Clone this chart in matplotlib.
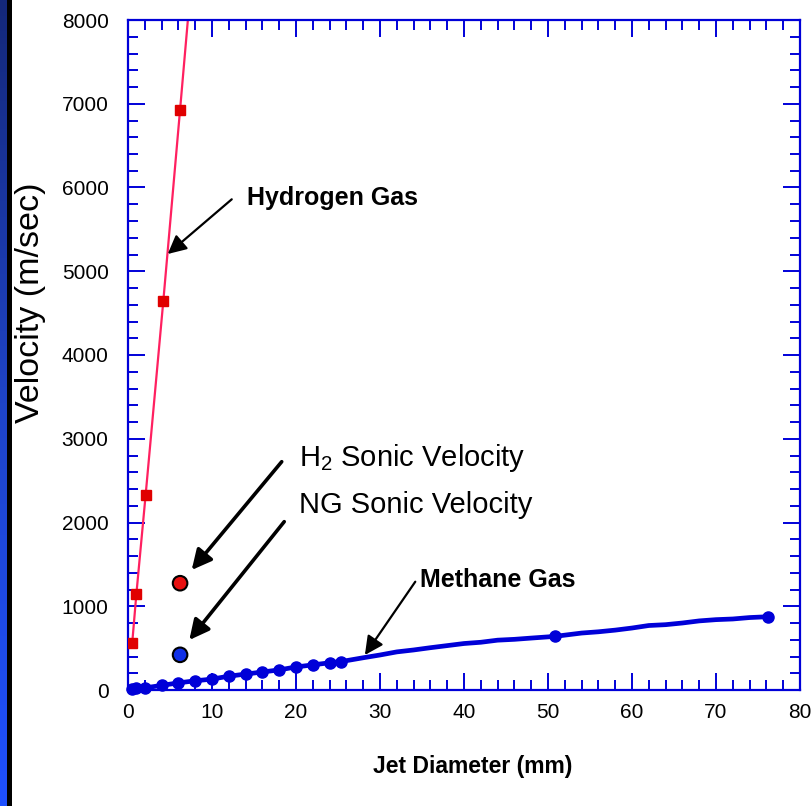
import numpy as np
import matplotlib
matplotlib.use("Agg")
import matplotlib.pyplot as plt
from matplotlib.patches import Rectangle
from matplotlib.colors import LinearSegmentedColormap

plt.rcParams["font.family"] = ["Liberation Sans", "DejaVu Sans"]
plt.rcParams["mathtext.fontset"] = "custom"
plt.rcParams["mathtext.rm"] = "Liberation Sans"

# hydrogen jet: measured points and the drawn line (runs off the top)
h2_diam = [0.5, 1.0, 2.1, 4.2, 6.2]
h2_vel = [560, 1150, 2330, 4640, 6930]
h2_line_diam = [0.5, 1.0, 2.1, 4.2, 6.2, 7.3]
h2_line_vel = [560, 1150, 2330, 4640, 6930, 8200]

# methane jet: line and marker points
ch4_line_diam = [0.5, 1, 2, 4, 6, 8, 10, 12, 14, 16, 18, 20, 22, 24, 25.4,
                 28, 30, 32, 34, 36, 38, 40, 42, 44, 46, 48, 50.8,
                 54, 56, 58, 60, 62, 64, 66, 68, 70, 72, 74, 76.2]
ch4_line_vel = [15, 20, 25, 55, 85, 110, 130, 165, 190, 215, 240, 275, 300, 325, 340,
                385, 418, 455, 478, 505, 530, 555, 570, 595, 605, 620, 640,
                680, 695, 715, 740, 770, 780, 800, 825, 840, 848, 865, 875]
ch4_diam = [0.5, 1, 2, 4, 6, 8, 10, 12, 14, 16, 18, 20, 22, 24, 25.4, 50.8, 76.2]
ch4_vel = [15, 20, 25, 55, 85, 110, 130, 165, 190, 215, 240, 275, 300, 325, 340, 640, 875]

# sonic velocity points
sonic_diam = [6.2, 6.2]
sonic_vel = [1275, 420]
sonic_colors = ["#e81010", "#1030e8"]

blue = "#0000d8"

fig = plt.figure(figsize=(8.11, 8.06), dpi=100)
fig.patch.set_facecolor("white")

# slide edge on the left
bar = fig.add_axes([0, 0, 7 / 811, 1])
grad = np.linspace(0, 1, 256).reshape(-1, 1)
cm = LinearSegmentedColormap.from_list("edge", ["#14287a", "#1f44c8", "#1e50ff"])
bar.imshow(grad, aspect="auto", cmap=cm, extent=[0, 1, 0, 1], origin="upper")
bar.axis("off")
fig.patches.append(Rectangle((7 / 811, 0), 5 / 811, 1, transform=fig.transFigure,
                             facecolor="black", edgecolor="none"))

ax = fig.add_axes([128 / 811, 1 - 690 / 806, 672 / 811, 670 / 806])
ax.plot(h2_line_diam, h2_line_vel, color="#ff2060", lw=1.6, zorder=2)
ax.plot(h2_diam, h2_vel, "s", color="#e00000", ms=7, zorder=3)
ax.plot(ch4_line_diam, ch4_line_vel, color=blue, lw=3.4, zorder=2, clip_on=False)
ax.plot(ch4_diam, ch4_vel, "o", color=blue, ms=8, zorder=3, clip_on=False)
ax.scatter(sonic_diam, sonic_vel, s=110, c=sonic_colors, edgecolors="black",
           linewidths=1.5, zorder=4)

ax.set_xlim(0, 80)
ax.set_ylim(0, 8000)
ax.set_xticks(np.arange(0, 81, 10))
ax.set_xticks(np.arange(0, 81, 2), minor=True)
ax.set_yticks(np.arange(0, 8001, 1000))
ax.set_yticks(np.arange(0, 8001, 200), minor=True)
for s in ax.spines.values():
    s.set_color(blue)
    s.set_linewidth(1.6)
ax.tick_params(which="both", direction="in", top=True, right=True, color=blue,
               width=1.4, labelsize=15, labelcolor="black")
ax.tick_params(which="major", length=12)
ax.tick_params(which="minor", length=7)
ax.tick_params(axis="y", pad=14)
ax.tick_params(axis="x", pad=9)

arrow_thin = dict(arrowstyle="-|>", color="black", lw=1.6, mutation_scale=28,
                  shrinkA=0, shrinkB=0)
arrow_thick = dict(arrowstyle="-|>", color="black", lw=2.6, mutation_scale=30,
                   shrinkA=0, shrinkB=0)

ax.annotate("", xy=(4.73, 5206), xytext=(12.35, 5859), arrowprops=arrow_thin)
ax.text(14.2, 5875, "Hydrogen Gas", fontsize=18, fontweight="bold",
        ha="left", va="center")

ax.annotate("", xy=(7.58, 1433), xytext=(18.3, 2726), arrowprops=arrow_thick)
ax.text(20.4, 2770, r"$\mathregular{H_2}$ Sonic Velocity", fontsize=21,
        ha="left", va="center")

ax.annotate("", xy=(7.3, 597), xytext=(18.6, 2010), arrowprops=arrow_thick)
ax.text(20.4, 2209, "NG Sonic Velocity", fontsize=21, ha="left", va="center")

ax.annotate("", xy=(28.2, 418), xytext=(34.2, 1293), arrowprops=arrow_thin)
ax.text(34.8, 1313, "Methane Gas", fontsize=18, fontweight="bold",
        ha="left", va="center")

fig.text(30 / 811, 1 - 303 / 806, "Velocity (m/sec)", rotation=90, fontsize=24.5,
         ha="center", va="center")
fig.text(473 / 811, 1 - 766 / 806, "Jet Diameter (mm)", fontsize=16.5,
         fontweight="bold", ha="center", va="center")

fig.savefig("out.png", dpi=100)
